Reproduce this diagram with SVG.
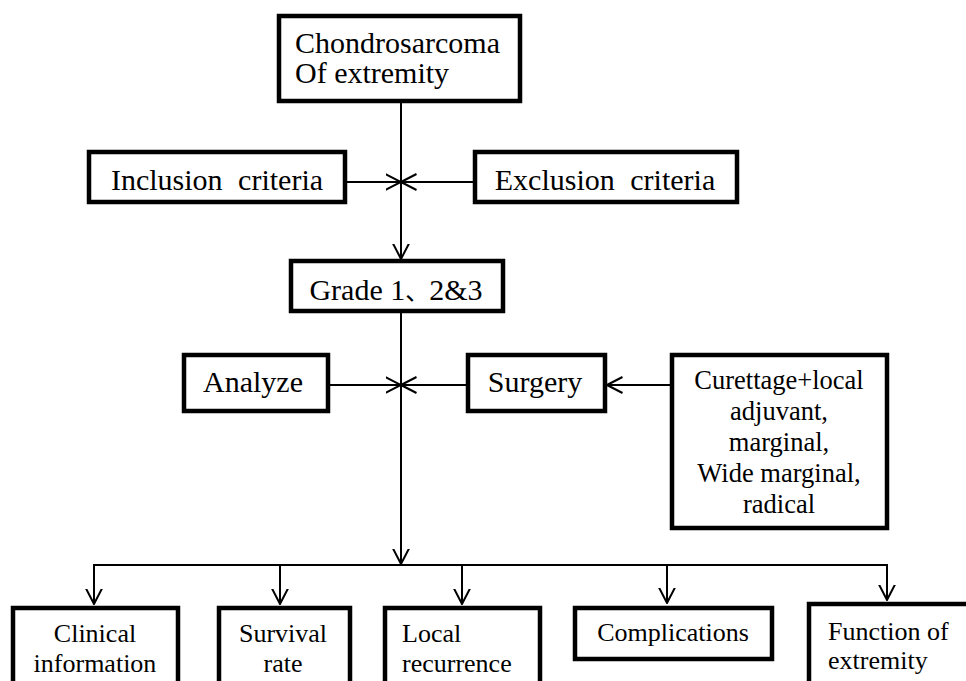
<svg xmlns="http://www.w3.org/2000/svg" width="966" height="681" viewBox="0 0 966 681" font-family="Liberation Serif, Times New Roman, DejaVu Serif, serif">
<defs>
<style>
.box{fill:#fff;stroke:#000;stroke-width:4.5}
.t30{font-size:30px;fill:#000}
.t26{font-size:26px;fill:#000}
.cjk{font-family:'Noto Sans CJK SC',sans-serif;font-size:24px}
.c{text-anchor:middle}
.ln{fill:none;stroke:#000;stroke-width:2}
</style>
<marker id="arr" viewBox="0 0 16 18" refX="15.5" refY="9" markerWidth="16" markerHeight="18" markerUnits="userSpaceOnUse" orient="auto">
<path d="M0,1 L15.5,9 L0,17" fill="none" stroke="#000" stroke-width="2"/>
</marker>
</defs>
<rect width="966" height="681" fill="#fff"/>
<g id="connectors">
<line class="ln" x1="401" y1="101" x2="401" y2="259" marker-end="url(#arr)"/>
<line class="ln" x1="345" y1="182" x2="401" y2="182" marker-end="url(#arr)"/>
<line class="ln" x1="475" y1="182" x2="401" y2="182" marker-end="url(#arr)"/>
<line class="ln" x1="401" y1="311" x2="401" y2="564" marker-end="url(#arr)"/>
<line class="ln" x1="328" y1="385" x2="401" y2="385" marker-end="url(#arr)"/>
<line class="ln" x1="468" y1="385" x2="401" y2="385" marker-end="url(#arr)"/>
<line class="ln" x1="672" y1="385" x2="607" y2="385" marker-end="url(#arr)"/>
<polyline class="ln" points="94,604 94,565 887,565 887,600"/>
<line class="ln" x1="94" y1="565" x2="94" y2="604" marker-end="url(#arr)"/>
<line class="ln" x1="280" y1="565" x2="280" y2="604" marker-end="url(#arr)"/>
<line class="ln" x1="462" y1="565" x2="462" y2="604" marker-end="url(#arr)"/>
<line class="ln" x1="667" y1="565" x2="667" y2="603" marker-end="url(#arr)"/>
<line class="ln" x1="887" y1="565" x2="887" y2="600" marker-end="url(#arr)"/>
</g>
<g id="n-chondro">
<rect class="box" x="279" y="16" width="241" height="85"/>
<text class="t30" x="295" y="53">Chondrosarcoma</text>
<text class="t30" x="295" y="83">Of extremity</text>
</g>
<g id="n-inclusion">
<rect class="box" x="89" y="152" width="256" height="50"/>
<text class="t30 c" x="217" y="190" word-spacing="8">Inclusion criteria</text>
</g>
<g id="n-exclusion">
<rect class="box" x="475" y="152" width="262" height="50"/>
<text class="t30 c" x="605" y="190" word-spacing="8">Exclusion criteria</text>
</g>
<g id="n-grade">
<rect class="box" x="291" y="261" width="212" height="50"/>
<text class="t30 c" x="396" y="300">Grade 1<tspan class="cjk">、</tspan>2&amp;3</text>
</g>
<g id="n-analyze">
<rect class="box" x="184" y="355" width="144" height="56"/>
<text class="t30 c" x="253" y="392">Analyze</text>
</g>
<g id="n-surgery">
<rect class="box" x="468" y="355" width="137" height="56"/>
<text class="t30 c" x="535" y="392">Surgery</text>
</g>
<g id="n-curettage">
<rect class="box" x="672" y="355" width="215" height="173"/>
<text class="t26 c" x="779" y="389" style="font-size:26.5px">Curettage+local</text>
<text class="t26 c" x="779" y="420" style="font-size:26.5px">adjuvant,</text>
<text class="t26 c" x="779" y="451" style="font-size:26.5px">marginal,</text>
<text class="t26 c" x="779" y="482" style="font-size:26.5px">Wide marginal,</text>
<text class="t26 c" x="779" y="513" style="font-size:26.5px">radical</text>
</g>
<g id="n-clinical">
<rect class="box" x="13" y="608" width="165" height="100"/>
<text class="t26 c" x="95" y="642">Clinical</text>
<text class="t26 c" x="95" y="672">information</text>
</g>
<g id="n-survival">
<rect class="box" x="219" y="608" width="131" height="100"/>
<text class="t26 c" x="283" y="642">Survival</text>
<text class="t26 c" x="283" y="672">rate</text>
</g>
<g id="n-local">
<rect class="box" x="385" y="608" width="155" height="100"/>
<text class="t26" x="402" y="642">Local</text>
<text class="t26" x="402" y="672">recurrence</text>
</g>
<g id="n-complications">
<rect class="box" x="575" y="608" width="197" height="51"/>
<text class="t26 c" x="673" y="641">Complications</text>
</g>
<g id="n-function">
<rect class="box" x="809" y="604" width="170" height="100"/>
<text class="t26" x="828" y="640">Function of</text>
<text class="t26" x="828" y="669">extremity</text>
</g>
</svg>
